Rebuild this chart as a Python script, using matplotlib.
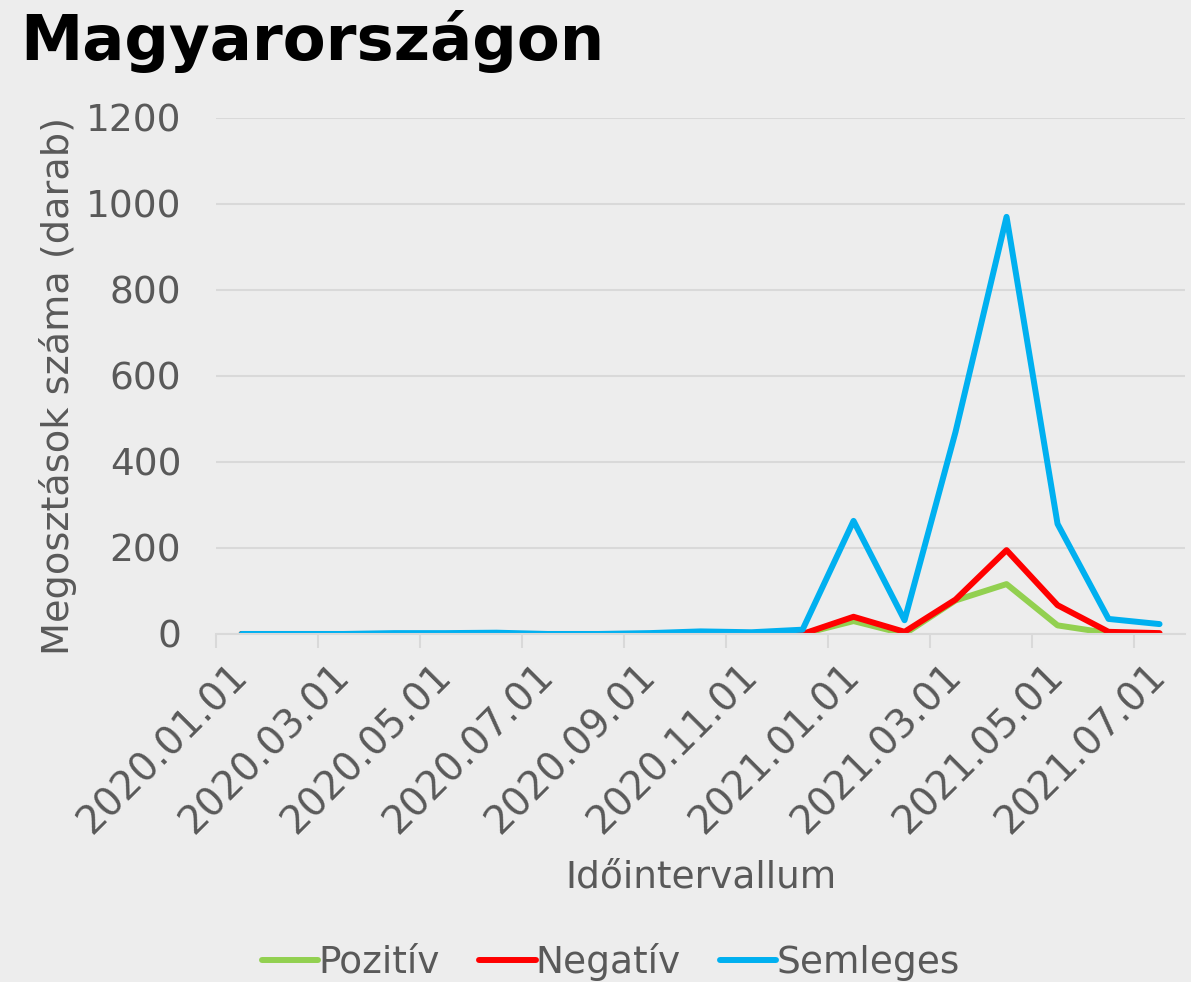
import matplotlib.pyplot as plt
import numpy as np

# monthly categories 2020.01 - 2021.07
months = ['2020.01.01', '2020.02.01', '2020.03.01', '2020.04.01', '2020.05.01',
          '2020.06.01', '2020.07.01', '2020.08.01', '2020.09.01', '2020.10.01',
          '2020.11.01', '2020.12.01', '2021.01.01', '2021.02.01', '2021.03.01',
          '2021.04.01', '2021.05.01', '2021.06.01', '2021.07.01']

pozitiv = [0, 0, 0, 0, 0, 0, 0, 0, 0, 0, 0, 0, 30, 0, 78, 116, 20, 2, 0]
negativ = [0, 0, 0, 0, 0, 0, 0, 0, 0, 0, 0, 0, 40, 5, 80, 195, 67, 5, 2]
semleges = [0, 0, 0, 2, 2, 3, 0, 0, 2, 6, 4, 10, 263, 32, 470, 970, 256, 35, 23]

bg = '#EDEDED'
txt = '#595959'
fs = 27

fig = plt.figure(figsize=(11.91, 9.82), dpi=100, facecolor=bg)
ax = fig.add_axes([0.1814, 0.3544, 0.8136, 0.5255], facecolor=bg)

x = np.arange(len(months))
ax.plot(x, pozitiv, color='#92D050', lw=4.3, label='Pozitív', solid_capstyle='round')
ax.plot(x, negativ, color='#FF0000', lw=4.3, label='Negatív', solid_capstyle='round')
ax.plot(x, semleges, color='#00B0F0', lw=4.3, label='Semleges', solid_capstyle='round')

ax.set_xlim(-0.5, len(months) - 0.5)
ax.set_ylim(0, 1200)
ax.set_yticks(range(0, 1201, 200))
ax.yaxis.grid(True, color='#D9D9D9', lw=1.5)
ax.set_axisbelow(True)

ax.set_xticks(x[::2])
ax.set_xticklabels(months[::2], rotation=45, ha='right', va='center',
                   rotation_mode='anchor')
ax.set_xticks(np.arange(-0.5, len(months), 2), minor=True)
ax.tick_params(axis='x', which='major', length=0, pad=26, labelsize=28, labelcolor=txt)
ax.tick_params(axis='x', which='minor', length=10, width=1.5, color='#D9D9D9')
ax.tick_params(axis='y', length=0, pad=25, labelsize=fs, labelcolor=txt)

for s in ['top', 'right', 'left']:
    ax.spines[s].set_visible(False)
ax.spines['bottom'].set_color('#D9D9D9')
ax.spines['bottom'].set_linewidth(1.5)

ax.set_ylabel('Megosztások száma (darab)', fontsize=27.5, color=txt, va='center')
ax.yaxis.set_label_coords(-0.163, 0.48)
ax.set_xlabel('Időintervallum', fontsize=fs, color=txt, labelpad=13)

fig.text(0.017, 0.958, 'Magyarországon', fontsize=45, fontweight='bold',
         color='black', va='center', ha='left')

fig.legend(loc='lower center', bbox_to_anchor=(0.513, -0.033), ncol=3, frameon=False,
           fontsize=fs, handlelength=1.5, handletextpad=0.0, columnspacing=1.05,
           labelcolor=txt)

fig.savefig('out.png', dpi=100, facecolor=bg)
